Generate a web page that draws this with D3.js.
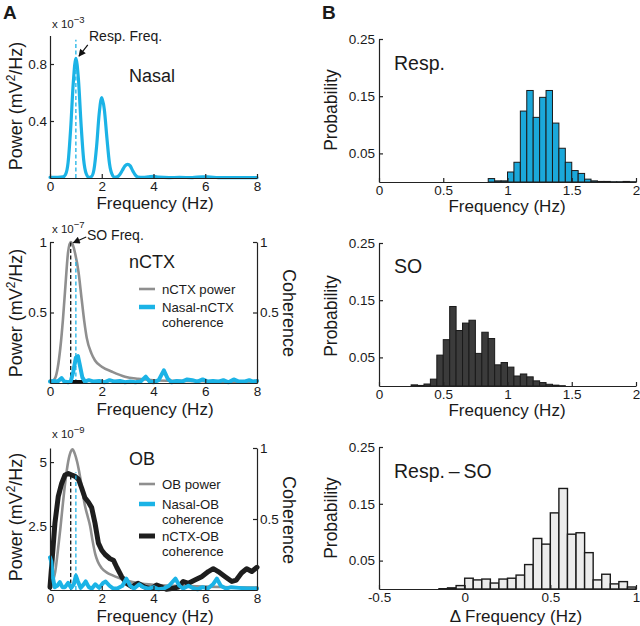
<!DOCTYPE html>
<html lang="en">
<head>
<meta charset="UTF-8">
<title>Respiration and SO frequency</title>
<script src="https://d3js.org/d3.v7.min.js"></script>
<style>
  body { margin: 0; background: #fff; }
  svg { display: block; font-family: "Liberation Sans", Arial, Helvetica, sans-serif; }
  text { fill: #1a1a1a; }
</style>
</head>
<body>
<svg width="640" height="626"></svg>
<script>
// ---------- data ----------
var freqTicks = [0, 2, 4, 6, 8];
var respFreq = 1.0, soFreq = 0.8;

// panel A1 : nasal power, x 10^-3 mV^2/Hz
var nasalPower = [[0,0.005],[0.3,0.005],[0.5,0.008],[0.6,0.025],[0.7,0.11],[0.8,0.35],[0.9,0.67],[1.0,0.84],[1.1,0.69],[1.2,0.38],[1.3,0.13],[1.4,0.03],[1.5,0.005],[1.6,0.01],[1.7,0.06],[1.8,0.22],[1.9,0.45],[2.0,0.565],[2.1,0.48],[2.2,0.28],[2.3,0.1],[2.4,0.025],[2.5,0.005],[2.6,0.008],[2.7,0.025],[2.8,0.055],[2.9,0.085],[3.0,0.096],[3.1,0.085],[3.2,0.05],[3.3,0.02],[3.4,0.007],[3.6,0.004],[3.8,0.008],[4.0,0.012],[4.2,0.006],[4.6,0.003],[5.0,0.004],[5.5,0.003],[5.9,0.008],[6.1,0.008],[6.5,0.003],[7,0.002],[8,0.002]];

// panel A2 : nCTX power (x 10^-7) and nasal-nCTX coherence
var nctxPower = [[0,0.01],[0.1,0.015],[0.2,0.035],[0.3,0.11],[0.4,0.25],[0.5,0.45],[0.6,0.7],[0.7,0.93],[0.8,1.0],[0.88,0.98],[0.97,0.92],[1.1,0.79],[1.22,0.6],[1.33,0.43],[1.42,0.32],[1.6,0.21],[1.74,0.16],[2.0,0.115],[2.4,0.08],[2.9,0.045],[3.4,0.03],[4,0.02],[5,0.015],[6,0.012],[7,0.01],[8,0.01]];
var nasalNctxCoh = [[0,0.01],[0.15,0.015],[0.3,0.01],[0.45,0.035],[0.55,0.01],[0.7,0.005],[0.8,0.01],[0.9,0.08],[1.0,0.18],[1.08,0.19],[1.15,0.13],[1.25,0.04],[1.35,0.01],[1.5,0.02],[1.7,0.01],[1.9,0.015],[2.1,0.005],[2.3,0.02],[2.5,0.01],[2.7,0.015],[2.9,0.005],[3.1,0.01],[3.3,0.005],[3.5,0.01],[3.7,0.045],[3.85,0.01],[4.0,0.005],[4.2,0.02],[4.4,0.09],[4.55,0.03],[4.7,0.005],[4.9,0.015],[5.1,0.01],[5.3,0.025],[5.5,0.02],[5.7,0.01],[5.9,0.025],[6.1,0.01],[6.3,0.015],[6.5,0.01],[6.7,0.02],[6.9,0.005],[7.1,0.025],[7.3,0.01],[7.5,0.01],[7.7,0.02],[7.85,0.01],[8,0.015]];
var nctxSigBar = [0.85, 1.3];

// panel A3 : OB power (x 10^-9) and coherences
var obPower = [[0,0.1],[0.1,0.3],[0.2,0.7],[0.3,1.5],[0.4,2.4],[0.5,3.4],[0.6,4.3],[0.7,5.0],[0.8,5.4],[0.87,5.5],[0.95,5.35],[1.05,5.0],[1.15,4.5],[1.25,3.9],[1.35,3.3],[1.45,2.9],[1.55,2.5],[1.65,1.9],[1.75,1.4],[1.85,1.1],[2.0,0.85],[2.2,0.68],[2.4,0.58],[2.7,0.46],[3.0,0.36],[3.4,0.27],[4,0.2],[5,0.16],[6,0.13],[7,0.11],[8,0.1]];
var nasalObCoh = [[0,0.23],[0.05,0.2],[0.1,0.1],[0.18,0.02],[0.28,0.03],[0.38,0.055],[0.48,0.02],[0.58,0.02],[0.7,0.05],[0.82,0.015],[0.92,0.04],[1.0,0.1],[1.08,0.06],[1.18,0.015],[1.3,0.04],[1.38,0.06],[1.5,0.02],[1.62,0.01],[1.75,0.04],[1.9,0.015],[2.05,0.05],[2.15,0.06],[2.3,0.03],[2.45,0.01],[2.6,0.01],[2.8,0.03],[2.95,0.08],[3.1,0.03],[3.25,0.01],[3.45,0.04],[3.6,0.02],[3.8,0.01],[4.0,0.02],[4.2,0.005],[4.4,0.01],[4.6,0.03],[4.85,0.08],[5.0,0.03],[5.15,0.01],[5.35,0.03],[5.5,0.015],[5.7,0.005],[5.9,0.02],[6.1,0.01],[6.3,0.04],[6.45,0.08],[6.6,0.03],[6.8,0.01],[7.0,0.02],[7.3,0.015],[7.6,0.01],[8,0.01]];
var nctxObCoh = [[0,0.02],[0.06,0.16],[0.19,0.47],[0.32,0.66],[0.45,0.75],[0.58,0.81],[0.71,0.82],[0.84,0.81],[0.97,0.8],[1.1,0.78],[1.22,0.72],[1.35,0.65],[1.48,0.62],[1.61,0.58],[1.74,0.47],[1.87,0.33],[2.0,0.28],[2.13,0.25],[2.32,0.22],[2.45,0.21],[2.58,0.16],[2.77,0.094],[2.96,0.047],[3.16,0.023],[3.41,0.047],[3.67,0.02],[3.93,0.01],[4.12,0.035],[4.32,0.02],[4.5,0.005],[4.7,0.01],[4.96,0.02],[5.15,0.06],[5.35,0.047],[5.6,0.07],[5.86,0.094],[6.12,0.13],[6.31,0.15],[6.5,0.13],[6.77,0.094],[7.03,0.06],[7.2,0.07],[7.4,0.12],[7.6,0.15],[7.8,0.13],[8,0.16]];

// panel B : histograms, bin width 0.05 Hz
var binW = 0.05;
var probTicks = [0.05, 0.15, 0.25];
var hzTicks = [0, 0.5, 1, 1.5, 2];
var diffTicks = [-0.5, 0, 0.5, 1];
var respBins = [0.85,0.9,0.95,1.0,1.05,1.1,1.15,1.2,1.25,1.3,1.35,1.4,1.45,1.5,1.55,1.6,1.65,1.7,1.75,1.8,1.85,1.9,1.95];
var respProb = [0.006,0.002,0.002,0.0175,0.0345,0.124,0.160,0.113,0.148,0.160,0.103,0.059,0.0345,0.02,0.015,0.005,0.002,0.001,0.001,0.0005,0.0005,0.001,0.0005];
var soBins = [0.25,0.3,0.35,0.4,0.45,0.5,0.55,0.6,0.65,0.7,0.75,0.8,0.85,0.9,0.95,1.0,1.05,1.1,1.15,1.2,1.25,1.3,1.35,1.4];
var soProb = [0.002,0.001,0.0035,0.012,0.054,0.081,0.139,0.097,0.11,0.115,0.057,0.094,0.083,0.037,0.041,0.033,0.0175,0.021,0.016,0.009,0.006,0.003,0.0015,0.0005];
var diffBins = [-0.15,-0.1,-0.05,0,0.05,0.1,0.15,0.2,0.25,0.3,0.35,0.4,0.45,0.5,0.55,0.6,0.65,0.7,0.75,0.8,0.85,0.9,0.95];
var diffProb = [0.0005,0.002,0.006,0.019,0.016,0.0175,0.0105,0.0175,0.019,0.0245,0.043,0.089,0.079,0.134,0.177,0.0965,0.099,0.064,0.016,0.026,0.009,0.013,0.0035];

var cyan = "#1bb3e6", grey = "#8f8f8f", dark = "#1e1e1e";
var FONT = "Liberation Sans, Arial, Helvetica, sans-serif";

var svg = d3.select("svg");
svg.append("defs").append("marker")
    .attr("id", "arr").attr("viewBox", "0 0 10 10")
    .attr("refX", 9).attr("refY", 5)
    .attr("markerWidth", 7).attr("markerHeight", 6)
    .attr("orient", "auto")
  .append("path").attr("d", "M0,0L10,5L0,10z").attr("fill", "#111");

function styleAxis(g) {
    g.attr("font-family", FONT).attr("font-size", 13.5);
    g.select(".domain").attr("stroke", "#222").attr("stroke-width", 1.2);
    g.selectAll(".tick line").attr("stroke", "#222").attr("stroke-width", 1.2);
    g.selectAll(".tick text").attr("fill", "#1a1a1a");
}
function plain(d) { return String(d); }

function leftAxis(y, x0, ticks, pad) {
    var g = svg.append("g").attr("transform", "translate(" + x0 + ",0)")
        .call(d3.axisLeft(y).tickValues(ticks).tickFormat(plain)
            .tickSizeInner(-4).tickSizeOuter(0).tickPadding(pad));
    styleAxis(g);
}
function rightAxis(y, x0, ticks) {
    var g = svg.append("g").attr("transform", "translate(" + x0 + ",0)")
        .call(d3.axisRight(y).tickValues(ticks).tickFormat(plain)
            .tickSizeInner(-4).tickSizeOuter(0).tickPadding(3));
    styleAxis(g);
}
function bottomAxis(x, y0, ticks) {
    var g = svg.append("g").attr("transform", "translate(0," + y0 + ")")
        .call(d3.axisBottom(x).tickValues(ticks).tickFormat(plain)
            .tickSizeInner(-4).tickSizeOuter(0).tickPadding(3));
    styleAxis(g);
}

function label(x, y, txt, size, opts) {
    opts = opts || {};
    var t = svg.append("text").attr("x", x).attr("y", y)
        .attr("font-size", size).text(txt);
    if (opts.anchor) t.attr("text-anchor", opts.anchor);
    if (opts.bold) t.attr("font-weight", "bold");
    if (opts.rotate) t.attr("transform", "rotate(" + opts.rotate + "," + x + "," + y + ")");
    return t;
}
function powerTitle(x, y) {
    var t = svg.append("text").attr("x", x).attr("y", y)
        .attr("font-size", 18).attr("text-anchor", "middle")
        .attr("transform", "rotate(-90," + x + "," + y + ")");
    t.append("tspan").text("Power (mV");
    t.append("tspan").attr("font-size", 12).attr("dy", -7).text("2");
    t.append("tspan").attr("dy", 7).text("/Hz)");
}
function scaleNote(x, y, exp) {
    var t = svg.append("text").attr("x", x).attr("y", y).attr("font-size", 11.5);
    t.append("tspan").text("x 10");
    t.append("tspan").attr("font-size", 9.5).attr("dy", -5).text(exp);
}
function curve(data, x, y, color, width, smooth) {
    svg.append("path").datum(data)
        .attr("d", d3.line().x(function (d) { return x(d[0]); }).y(function (d) { return y(d[1]); })
            .curve(smooth ? d3.curveMonotoneX : d3.curveLinear))
        .attr("fill", "none").attr("stroke", color).attr("stroke-width", width)
        .attr("stroke-linejoin", "round").attr("stroke-linecap", "round");
}
function vdash(x, y, f, top, color) {
    svg.append("line")
        .attr("x1", x(f)).attr("x2", x(f)).attr("y1", y(0)).attr("y2", y(top))
        .attr("stroke", color).attr("stroke-width", 1.3).attr("stroke-dasharray", "4,2.5");
}
function legendRow(xl, yl, color, width, lines) {
    svg.append("line").attr("x1", xl).attr("x2", xl + 16).attr("y1", yl).attr("y2", yl)
        .attr("stroke", color).attr("stroke-width", width);
    lines.forEach(function (s, i) {
        label(xl + 23, yl + 4.5 + i * 15.5, s, 13.2);
    });
}

// ---------- A1 ----------
var xA = d3.scaleLinear().domain([0, 8]).range([50, 257]);
var yA1 = d3.scaleLinear().domain([0, 1]).range([178, 35.5]);
vdash(xA, yA1, respFreq, 0.97, cyan);
curve(nasalPower, xA, yA1, cyan, 3.2, true);
leftAxis(yA1, 50, [0.4, 0.8], 3);
bottomAxis(xA, 178, freqTicks);
scaleNote(52, 28, "\u22123");
label(89, 41, "Resp. Freq.", 14);
svg.append("line").attr("x1", xA(1.46)).attr("y1", yA1(0.935))
    .attr("x2", xA(1.12)).attr("y2", yA1(0.855))
    .attr("stroke", "#111").attr("stroke-width", 1.2).attr("marker-end", "url(#arr)");
label(129, 82, "Nasal", 18);
powerTitle(22, 106);
label(155, 209, "Frequency (Hz)", 17, { anchor: "middle" });

// ---------- A2 ----------
var yA2 = d3.scaleLinear().domain([0, 1]).range([383, 242]);
curve(nctxPower, xA, yA2, grey, 2.6, true);
vdash(xA, yA2, soFreq, 1.0, "#111");
vdash(xA, yA2, respFreq, 0.88, cyan);
svg.append("line").attr("x1", xA(nctxSigBar[0])).attr("x2", xA(nctxSigBar[1]))
    .attr("y1", yA2(0) - 1.5).attr("y2", yA2(0) - 1.5)
    .attr("stroke", "#111").attr("stroke-width", 3);
curve(nasalNctxCoh, xA, yA2, cyan, 4, false);
leftAxis(yA2, 50, [0.5, 1], 3);
rightAxis(yA2, 257, [0.5, 1]);
bottomAxis(xA, 383, freqTicks);
scaleNote(52, 233, "\u22127");
label(87, 240, "SO Freq.", 14);
svg.append("line").attr("x1", xA(1.4)).attr("y1", yA2(1.035))
    .attr("x2", xA(0.9)).attr("y2", yA2(0.995))
    .attr("stroke", "#111").attr("stroke-width", 1.2).attr("marker-end", "url(#arr)");
label(129, 268, "nCTX", 18);
legendRow(139, 289, grey, 2.6, ["nCTX power"]);
legendRow(139, 307, cyan, 4.5, ["Nasal-nCTX", "coherence"]);
powerTitle(22, 313);
label(283, 313, "Coherence", 18, { anchor: "middle", rotate: 90 });
label(155, 415, "Frequency (Hz)", 17, { anchor: "middle" });

// ---------- A3 ----------
var yA3p = d3.scaleLinear().domain([0, 5.55]).range([590, 448]);
var yA3c = d3.scaleLinear().domain([0, 1]).range([590, 448]);
curve(obPower, xA, yA3p, grey, 2.6, true);
curve(nctxObCoh, xA, yA3c, dark, 5, false);
vdash(xA, yA3p, soFreq, 4.5, "#111");
vdash(xA, yA3p, respFreq, 4.6, cyan);
curve(nasalObCoh, xA, yA3c, cyan, 4, false);
leftAxis(yA3p, 50, [2.5, 5], 3);
rightAxis(yA3c, 257, [0.5, 1]);
bottomAxis(xA, 590, freqTicks);
scaleNote(52, 438, "\u22129");
label(129, 465, "OB", 18);
legendRow(139, 484, grey, 2.6, ["OB power"]);
legendRow(139, 504, cyan, 4.5, ["Nasal-OB", "coherence"]);
legendRow(139, 536, dark, 5, ["nCTX-OB", "coherence"]);
powerTitle(22, 517);
label(283, 520, "Coherence", 18, { anchor: "middle", rotate: 90 });
label(155, 622, "Frequency (Hz)", 17, { anchor: "middle" });

// ---------- B histograms ----------
function histogram(bins, probs, x, y, fill, sw) {
    svg.append("g").selectAll("rect").data(bins).enter().append("rect")
        .attr("x", function (d) { return x(d); })
        .attr("width", function (d) { return x(d + binW) - x(d); })
        .attr("y", function (d, i) { return y(probs[i]); })
        .attr("height", function (d, i) { return y(0) - y(probs[i]); })
        .attr("fill", fill).attr("stroke", "#1a1a1a").attr("stroke-width", sw);
}

var xB = d3.scaleLinear().domain([0, 2]).range([379, 636]);
var xB3 = d3.scaleLinear().domain([-0.5, 1]).range([379, 636]);

var yB1 = d3.scaleLinear().domain([0, 0.25]).range([182, 39]);
histogram(respBins, respProb, xB, yB1, "#1ba8da", 1);
leftAxis(yB1, 379, probTicks, 4);
bottomAxis(xB, 182, hzTicks);
label(394, 70, "Resp.", 19.5);
label(337, 110, "Probability", 17.5, { anchor: "middle", rotate: -90 });
label(507, 212, "Frequency (Hz)", 17, { anchor: "middle" });

var yB2 = d3.scaleLinear().domain([0, 0.25]).range([386, 243]);
histogram(soBins, soProb, xB, yB2, "#3b3b3b", 1);
leftAxis(yB2, 379, probTicks, 4);
bottomAxis(xB, 386, hzTicks);
label(394, 273, "SO", 19.5);
label(337, 316, "Probability", 17.5, { anchor: "middle", rotate: -90 });
label(507, 416, "Frequency (Hz)", 17, { anchor: "middle" });

var yB3 = d3.scaleLinear().domain([0, 0.25]).range([589, 447]);
histogram(diffBins, diffProb, xB3, yB3, "#ececec", 1.4);
leftAxis(yB3, 379, probTicks, 4);
bottomAxis(xB3, 589, diffTicks);
label(394, 478, "Resp.\u2009\u2013\u2009SO", 19.5);
label(337, 518, "Probability", 17.5, { anchor: "middle", rotate: -90 });
label(516, 622, "\u0394 Frequency (Hz)", 17, { anchor: "middle" });

// panel letters
label(3, 19, "A", 19, { bold: true });
label(322, 19, "B", 19, { bold: true });
</script>
</body>
</html>
